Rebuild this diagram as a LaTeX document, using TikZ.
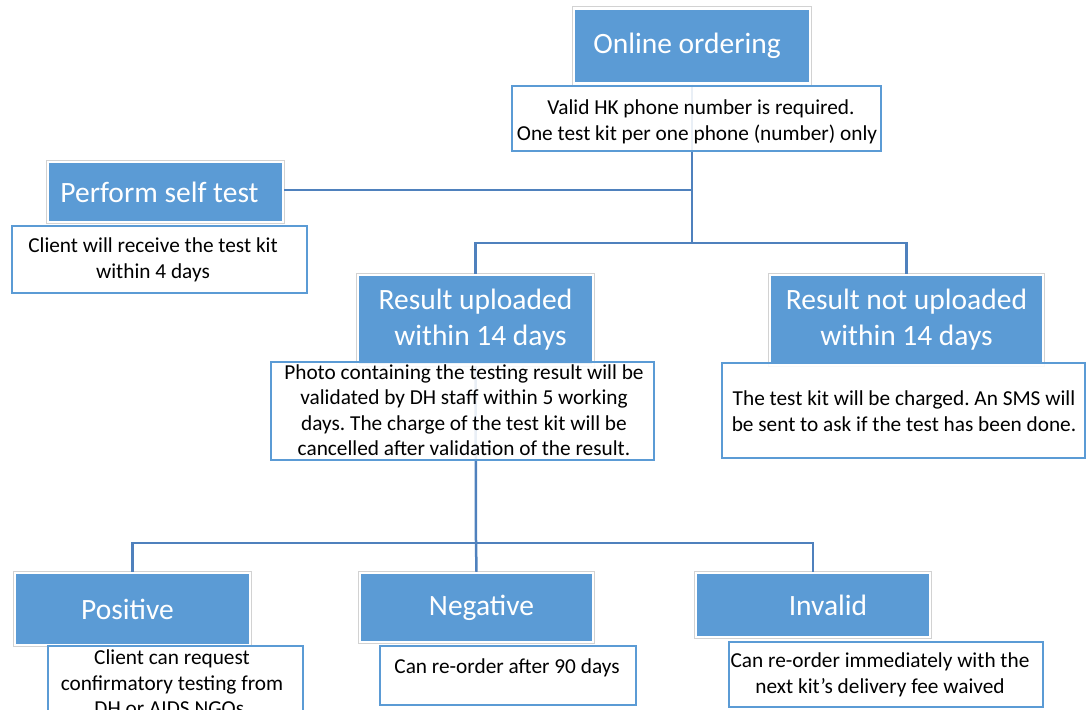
\documentclass[tikz,border=0pt]{standalone}
\usepackage{fontspec}
\setmainfont{Carlito}
\frenchspacing
\definecolor{boxblue}{HTML}{5B9BD5}
\definecolor{linkblue}{HTML}{4F81BD}
\definecolor{noteblue}{HTML}{5B9BD5}
\tikzset{
  head/.style={fill=boxblue, draw=white, line width=2.5pt,
    preaction={draw=gray!35, line width=4.5pt},
    text=white, font=\fontsize{29.5}{36}\selectfont, align=center, inner sep=0pt},
  note/.style={draw=noteblue, line width=2.5pt, fill=white, fill opacity=0.88, inner sep=0pt},
  notetext/.style={font=\fontsize{21.3}{25.5}\selectfont\frenchspacing, align=center, inner sep=0pt, text=black},
  conn/.style={draw=linkblue, line width=2.5pt}
}
\begin{document}
\begin{tikzpicture}[x=1pt,y=-1pt]
\useasboundingbox (0,0) rectangle (1086,709);
\clip (0,0) rectangle (1086,709);
% junctions
\coordinate (j1) at (692,190);
\coordinate (j2) at (692,243);
\coordinate (j3) at (476,543);
% heading boxes
\node[head, minimum width=236pt, minimum height=75pt] (oo) at (692,46) {\hspace*{-10pt}Online ordering};
\node[head, minimum width=235pt, minimum height=60pt] (pst) at (165.5,192) {Perform self test\hspace*{12pt}};
\node[head, minimum width=235pt, minimum height=90pt] (ru) at (475.5,320) {Result uploaded\\ \hspace*{10pt}within 14 days};
\node[head, minimum width=273pt, minimum height=90pt] (rnu) at (906.5,320) {Result not uploaded\\within 14 days};
\node[head, minimum width=235pt, minimum height=72pt] (pos) at (132.5,609) {Positive\hspace*{10pt}};
\node[head, minimum width=233pt, minimum height=69pt] (neg) at (476.5,607.5) {\hspace*{10pt}Negative};
\node[head, minimum width=234pt, minimum height=64pt] (inv) at (813,605) {\hspace*{30pt}Invalid};
% connectors
\draw[conn] (oo.south) -- (j2);
\draw[conn] (j1) -- (j1 -| pst.east);
\draw[conn] (j2) -- (j2 -| ru.north) -- (ru.north);
\draw[conn] (j2) -- (j2 -| rnu.north) -- (rnu.north);
\draw[conn] (ru.south) -- (j3);
\draw[conn] (j3) -- (j3 -| pos.north) -- (pos.north);
\draw[conn] (j3) -- (neg.north);
\draw[conn] (j3) -- (j3 -| inv.north) -- (inv.north);
% note boxes
\node[note, minimum width=369pt, minimum height=65pt] (n1) at (696.5,118.5) {};
\node[note, minimum width=295pt, minimum height=67pt] (n2) at (159.5,259.5) {};
\node[note, minimum width=383pt, minimum height=98pt] (n3) at (462.5,411) {};
\node[note, minimum width=363pt, minimum height=95pt] (n4) at (903.5,410.5) {};
\node[note, minimum width=255pt, minimum height=70pt] (n5) at (175.5,681) {};
\node[note, minimum width=256pt, minimum height=59pt] (n6) at (508,675.5) {};
\node[note, minimum width=314pt, minimum height=65pt] (n7) at (886,674.5) {};
% note texts
\node[notetext] (t1) at (697,122) {\hspace*{8pt}Valid HK phone number is required.\\One test kit per one phone (number) only};
\node[notetext] (t2) at (153,260) {Client will receive the test kit\\within 4 days};
\node[notetext] (t3) at (464,410) {Photo containing the testing result will be\\validated by DH staff within 5 working\\days. The charge of the test kit will be\\cancelled after validation of the result.};
\node[notetext] (t4) at (904,411) {The test kit will be charged. An SMS will\\be sent to ask if the test has been done.};
\node[notetext] (t5) at (172,683) {Client can request\\confirmatory testing from\\DH or AIDS NGOs.};
\node[notetext] (t6) at (507,668) {Can re-order after 90 days};
\node[notetext] (t7) at (880,675) {Can re-order immediately with the\\next kit’s delivery fee waived};
\end{tikzpicture}
\end{document}
